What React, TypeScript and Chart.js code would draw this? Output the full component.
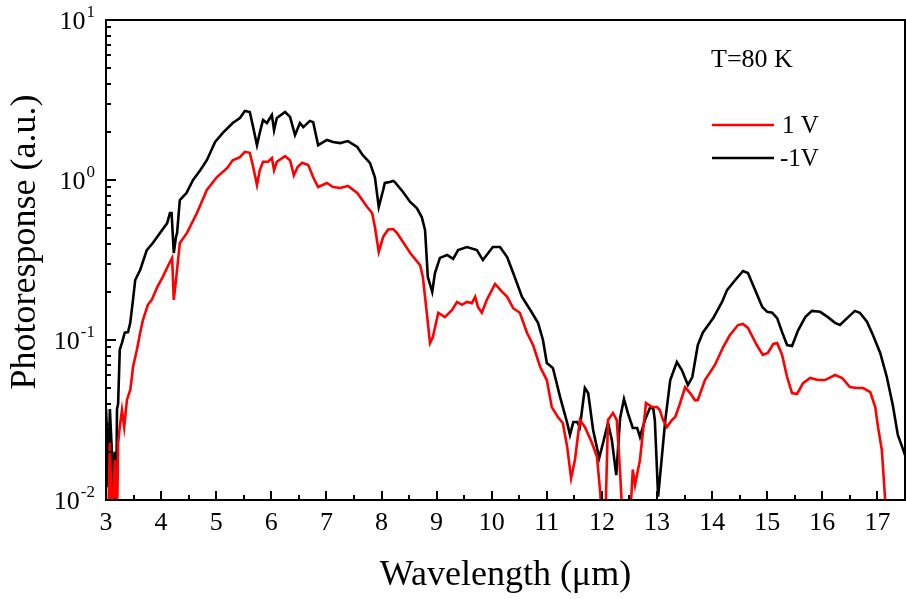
import { useEffect, useRef } from 'react';
import { Chart, registerables } from 'chart.js';

Chart.register(...registerables);

const FONT = "'Liberation Serif', 'Times New Roman', Times, serif";

// Axis ticks
const X_MAJOR = [3, 4, 5, 6, 7, 8, 9, 10, 11, 12, 13, 14, 15, 16, 17];
const X_MINOR = [3.5, 4.5, 5.5, 6.5, 7.5, 8.5, 9.5, 10.5, 11.5, 12.5, 13.5, 14.5, 15.5, 16.5, 17.5];
const Y_MAJOR = [0.01, 0.1, 1, 10];
const Y_EXP = ['-2', '-1', '0', '1'];

// Series: [wavelength (µm), photoresponse (a.u.)]
const BLACK_MINUS1V: [number, number][] = [
  [3.00, 0.037], [3.02, 0.026], [3.04, 0.012], [3.07, 0.037], [3.11, 0.019], [3.13, 0.007], [3.16, 0.020], [3.18, 0.007],
  [3.20, 0.037], [3.22, 0.040], [3.25, 0.087], [3.29, 0.096], [3.34, 0.111], [3.40, 0.112], [3.44, 0.128], [3.49, 0.178],
  [3.53, 0.237], [3.62, 0.274], [3.74, 0.365], [3.85, 0.404], [3.98, 0.467], [4.11, 0.538], [4.16, 0.622], [4.19, 0.622],
  [4.23, 0.35], [4.27, 0.441], [4.29, 0.467], [4.34, 0.75], [4.46, 0.829], [4.58, 1.00], [4.71, 1.15], [4.83, 1.33],
  [4.98, 1.73], [5.12, 1.97], [5.30, 2.27], [5.43, 2.44], [5.52, 2.70], [5.61, 2.66], [5.67, 2.14], [5.74, 1.65],
  [5.79, 1.97], [5.85, 2.37], [5.92, 2.27], [6.01, 2.55], [6.05, 2.05], [6.10, 2.44], [6.25, 2.66], [6.34, 2.48],
  [6.43, 1.91], [6.52, 2.27], [6.58, 2.14], [6.70, 2.34], [6.76, 2.30], [6.85, 1.65], [7.01, 1.78], [7.12, 1.73],
  [7.25, 1.70], [7.39, 1.75], [7.56, 1.61], [7.66, 1.43], [7.79, 1.28], [7.88, 1.04], [7.95, 0.678], [8.03, 0.866],
  [8.06, 0.958], [8.15, 0.972], [8.21, 0.986], [8.24, 0.972], [8.39, 0.841], [8.52, 0.729], [8.64, 0.668], [8.73, 0.587],
  [8.79, 0.487], [8.84, 0.248], [8.92, 0.20], [8.97, 0.262], [9.06, 0.326], [9.19, 0.34], [9.30, 0.321], [9.39, 0.365],
  [9.55, 0.381], [9.73, 0.365], [9.84, 0.316], [10.02, 0.381], [10.15, 0.381], [10.28, 0.33], [10.39, 0.262], [10.55, 0.186],
  [10.70, 0.154], [10.84, 0.128], [10.93, 0.10], [11.00, 0.0718], [11.11, 0.0668], [11.24, 0.0441], [11.37, 0.0303], [11.42, 0.0255],
  [11.48, 0.0307], [11.55, 0.0307], [11.60, 0.0286], [11.69, 0.0501], [11.75, 0.0466], [11.84, 0.0274], [11.95, 0.0183], [12.02, 0.0227],
  [12.11, 0.0303], [12.18, 0.0237], [12.26, 0.0143], [12.33, 0.0326], [12.40, 0.0428], [12.47, 0.035], [12.56, 0.0282], [12.64, 0.0282],
  [12.69, 0.0248], [12.78, 0.0316], [12.87, 0.0376], [12.93, 0.0376], [12.96, 0.0316], [13.02, 0.0105], [13.09, 0.019], [13.15, 0.0316],
  [13.24, 0.0562], [13.36, 0.0729], [13.45, 0.0649], [13.56, 0.0523], [13.64, 0.0587], [13.74, 0.093], [13.83, 0.111], [14.02, 0.137],
  [14.18, 0.173], [14.27, 0.205], [14.42, 0.237], [14.56, 0.27], [14.65, 0.262], [14.78, 0.205], [14.91, 0.161], [15.00, 0.150],
  [15.09, 0.148], [15.18, 0.137], [15.27, 0.112], [15.36, 0.093], [15.45, 0.0917], [15.56, 0.115], [15.69, 0.139], [15.81, 0.152],
  [15.96, 0.150], [16.10, 0.139], [16.23, 0.128], [16.32, 0.124], [16.45, 0.137], [16.59, 0.152], [16.68, 0.148], [16.81, 0.13],
  [16.92, 0.107], [17.05, 0.083], [17.17, 0.0587], [17.28, 0.039], [17.37, 0.0255], [17.45, 0.0214], [17.52, 0.0183],
];

const RED_1V: [number, number][] = [
  [3.04, 0.007], [3.07, 0.0227], [3.11, 0.007], [3.16, 0.0178], [3.20, 0.007], [3.22, 0.0227], [3.25, 0.0286], [3.29, 0.0365],
  [3.33, 0.0286], [3.38, 0.0422], [3.44, 0.0487], [3.47, 0.0587], [3.49, 0.0678], [3.56, 0.0866], [3.62, 0.111], [3.67, 0.133],
  [3.76, 0.166], [3.83, 0.178], [3.93, 0.214], [4.03, 0.248], [4.16, 0.307], [4.20, 0.326], [4.23, 0.178], [4.27, 0.237],
  [4.34, 0.404], [4.47, 0.467], [4.65, 0.622], [4.83, 0.866], [5.01, 1.04], [5.20, 1.19], [5.30, 1.33], [5.43, 1.39],
  [5.52, 1.50], [5.61, 1.48], [5.67, 1.21], [5.74, 0.93], [5.79, 1.15], [5.85, 1.30], [5.94, 1.30], [6.01, 1.37],
  [6.05, 1.15], [6.10, 1.30], [6.25, 1.41], [6.34, 1.33], [6.41, 1.07], [6.48, 1.21], [6.56, 1.28], [6.67, 1.24],
  [6.76, 1.04], [6.85, 0.904], [7.01, 0.958], [7.12, 0.904], [7.25, 0.891], [7.39, 0.917], [7.56, 0.829], [7.74, 0.678],
  [7.83, 0.622], [7.88, 0.508], [7.95, 0.355], [8.03, 0.441], [8.12, 0.49], [8.21, 0.494], [8.28, 0.467], [8.39, 0.41],
  [8.52, 0.35], [8.70, 0.294], [8.75, 0.248], [8.83, 0.139], [8.88, 0.0957], [8.93, 0.104], [9.03, 0.148], [9.15, 0.139],
  [9.28, 0.154], [9.37, 0.173], [9.46, 0.166], [9.55, 0.173], [9.64, 0.170], [9.70, 0.186], [9.75, 0.161], [9.82, 0.148],
  [9.91, 0.178], [10.06, 0.224], [10.19, 0.20], [10.28, 0.186], [10.39, 0.158], [10.51, 0.148], [10.64, 0.111], [10.75, 0.093],
  [10.88, 0.0678], [11.00, 0.0562], [11.09, 0.0381], [11.20, 0.033], [11.29, 0.0303], [11.37, 0.0214], [11.44, 0.0137], [11.51, 0.0178],
  [11.60, 0.0316], [11.69, 0.0286], [11.82, 0.0227], [11.91, 0.0186], [11.97, 0.0111], [12.00, 0.007], [12.06, 0.007], [12.11, 0.0316],
  [12.20, 0.035], [12.27, 0.0316], [12.33, 0.0148], [12.38, 0.007], [12.53, 0.01], [12.56, 0.0155], [12.60, 0.0124], [12.69, 0.0178],
  [12.80, 0.0404], [12.91, 0.0381], [13.00, 0.0381], [13.05, 0.0365], [13.11, 0.0316], [13.18, 0.0286], [13.27, 0.0316], [13.33, 0.033],
  [13.42, 0.0404], [13.51, 0.0508], [13.60, 0.0466], [13.69, 0.042], [13.74, 0.0422], [13.87, 0.0562], [14.05, 0.0698], [14.20, 0.0904],
  [14.32, 0.107], [14.47, 0.124], [14.56, 0.126], [14.65, 0.119], [14.81, 0.093], [14.92, 0.0806], [15.01, 0.083], [15.11, 0.0944],
  [15.18, 0.0957], [15.27, 0.0806], [15.36, 0.0587], [15.45, 0.0466], [15.54, 0.046], [15.65, 0.0538], [15.78, 0.0579], [15.92, 0.0562],
  [16.05, 0.0562], [16.23, 0.0604], [16.36, 0.0579], [16.50, 0.0508], [16.63, 0.0501], [16.74, 0.0501], [16.87, 0.0473], [16.96, 0.0381],
  [17.01, 0.0286], [17.08, 0.0205], [17.14, 0.01], [17.18, 0.007],
];

const X_TITLE = 'Wavelength (μm)';
const Y_TITLE = 'Photoresponse (a.u.)';
const NOTE = 'T=80 K';
const LEGEND = [
  { label: '1 V', color: '#ff0000' },
  { label: '-1V', color: '#000000' },
];

const framePlugin = {
  id: 'framePlugin',
  afterDatasetsDraw(chart: any) {
    const { ctx, chartArea: a, scales } = chart;
    const x = scales.x;
    const y = scales.y;
    ctx.save();
    ctx.strokeStyle = '#000';
    ctx.fillStyle = '#000';
    ctx.lineWidth = 2;
    ctx.strokeRect(a.left, a.top, a.right - a.left, a.bottom - a.top);

    // x ticks
    ctx.lineWidth = 2;
    ctx.beginPath();
    X_MAJOR.forEach((v) => {
      const px = Math.round(x.getPixelForValue(v));
      ctx.moveTo(px, a.bottom);
      ctx.lineTo(px, a.bottom - 9);
    });
    X_MINOR.forEach((v) => {
      const px = Math.round(x.getPixelForValue(v));
      ctx.moveTo(px, a.bottom);
      ctx.lineTo(px, a.bottom - 5);
    });
    // y ticks
    Y_MAJOR.forEach((v) => {
      const py = Math.round(y.getPixelForValue(v));
      ctx.moveTo(a.left, py);
      ctx.lineTo(a.left + 10, py);
    });
    for (let d = 0; d < Y_MAJOR.length - 1; d++) {
      for (let m = 2; m <= 9; m++) {
        const py = Math.round(y.getPixelForValue(Y_MAJOR[d] * m));
        ctx.moveTo(a.left, py);
        ctx.lineTo(a.left + 5, py);
      }
    }
    ctx.stroke();

    // x tick labels
    ctx.font = `26px ${FONT}`;
    ctx.textAlign = 'center';
    ctx.textBaseline = 'middle';
    X_MAJOR.forEach((v) => {
      ctx.fillText(String(v), x.getPixelForValue(v), a.bottom + 23);
    });

    // y tick labels 10^n
    Y_MAJOR.forEach((v, i) => {
      const py = y.getPixelForValue(v);
      ctx.font = `17px ${FONT}`;
      const supW = ctx.measureText(Y_EXP[i]).width;
      ctx.font = `26px ${FONT}`;
      const baseW = ctx.measureText('10').width;
      const right = 95;
      ctx.textAlign = 'left';
      ctx.fillText('10', right - supW - baseW - 1, py + 2);
      ctx.font = `17px ${FONT}`;
      ctx.fillText(Y_EXP[i], right - supW, py - 7);
    });

    // axis titles
    ctx.font = `36px ${FONT}`;
    ctx.textAlign = 'center';
    ctx.textBaseline = 'middle';
    ctx.fillText(X_TITLE, (a.left + a.right) / 2, 576);
    ctx.save();
    ctx.translate(26, 242);
    ctx.rotate(-Math.PI / 2);
    ctx.fillText(Y_TITLE, 0, 0);
    ctx.restore();

    // annotation + legend
    ctx.textAlign = 'left';
    ctx.font = `26px ${FONT}`;
    ctx.fillText(NOTE, 711, 60);
    ctx.font = `25px ${FONT}`;
    LEGEND.forEach((item, i) => {
      const ly = 125 + i * 33;
      ctx.strokeStyle = item.color;
      ctx.lineWidth = 2.5;
      ctx.beginPath();
      ctx.moveTo(712, ly);
      ctx.lineTo(774, ly);
      ctx.stroke();
      ctx.fillStyle = '#000';
      ctx.fillText(item.label, i === 0 ? 782 : 780, ly + 1);
    });
    ctx.restore();
  },
};

export default function App() {
  const ref = useRef<HTMLCanvasElement>(null);
  useEffect(() => {
    document.body.style.margin = '0';
    const toPts = (s: [number, number][]) => s.map(([x, y]) => ({ x, y }));
    const chart = new Chart(ref.current as HTMLCanvasElement, {
      type: 'line',
      data: {
        datasets: [
          {
            label: LEGEND[0].label,
            data: toPts(RED_1V),
            borderColor: LEGEND[0].color,
            borderWidth: 2.6,
            pointRadius: 0,
            tension: 0,
            fill: false,
          },
          {
            label: LEGEND[1].label,
            data: toPts(BLACK_MINUS1V),
            borderColor: LEGEND[1].color,
            borderWidth: 2.6,
            pointRadius: 0,
            tension: 0,
            fill: false,
          },
        ],
      },
      options: {
        animation: false,
        responsive: false,
        events: [],
        layout: { padding: { left: 106, right: 1, top: 20, bottom: 99 } },
        plugins: { legend: { display: false }, tooltip: { enabled: false } },
        scales: {
          x: { type: 'linear', min: 3, max: 17.5, display: false },
          y: { type: 'logarithmic', min: 0.01, max: 10, display: false },
        },
      },
      plugins: [framePlugin],
    } as any);
    return () => chart.destroy();
  }, []);
  return <canvas ref={ref} width={906} height={599} style={{ display: 'block' }} />;
}
